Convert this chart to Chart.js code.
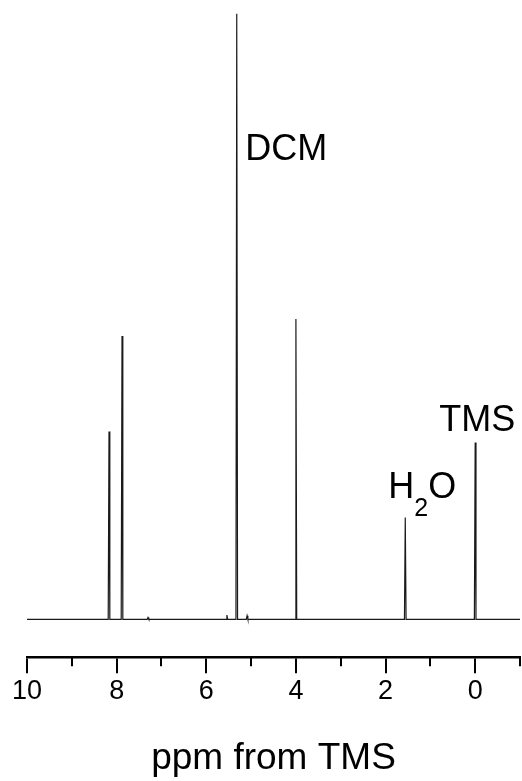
<!DOCTYPE html>
<html>
<head>
<meta charset="utf-8">
<script src="https://cdn.jsdelivr.net/npm/chart.js@4.4.1/dist/chart.umd.min.js"></script>
<style>
  body { margin: 0; background: #fff; }
  #wrap { width: 522px; height: 781px; }
</style>
</head>
<body>
<div id="wrap"><canvas id="nmr"></canvas></div>
<script>
// peak positions (ppm) and heights (DCM = 100)
const peakPpm    = [8.17, 7.88, 7.30, 5.54, 5.32, 5.09, 4.00, 1.56, 0.00];
const peakHeight = [31.0, 46.8, 0.3,  0.7,  100,  0.6,  49.6, 16.8, 29.2];

const majorTicks = [10, 8, 6, 4, 2, 0];
const minorTicks = [9, 7, 5, 3, 1, -1];

// solvent / reference labels: [text, ppm, height]
const peakLabels = [['DCM', 5.13, 75.9], ['TMS', 0.80, 31.1], ['H2O', 1.94, 20.1]];

const ppmMax = 10, ppmMin = -1;

// each peak as a narrow triangle on a flat baseline
function buildSpectrum(){
    const pts = [{x: ppmMax, y: 0}];
    peakPpm.forEach((p, i) => {
        pts.push({x: p + 0.018, y: 0});
        pts.push({x: p, y: peakHeight[i]});
        pts.push({x: p - 0.018, y: 0});
    });
    pts.push({x: ppmMin, y: 0});
    return pts.sort((a, b) => b.x - a.x);
}

const FONT = "'Liberation Sans', Arial, sans-serif";
Chart.defaults.font.family = FONT;
Chart.defaults.color = '#000';

const minorTickPlugin = {
    id: 'minorTicks',
    afterDraw(chart){
        const {ctx, scales: {x}, chartArea} = chart;
        ctx.save();
        ctx.strokeStyle = '#000';
        ctx.lineWidth = 2;
        minorTicks.forEach(v => {
            const px = Math.round(x.getPixelForValue(v));
            ctx.beginPath();
            ctx.moveTo(px, chartArea.bottom);
            ctx.lineTo(px, chartArea.bottom + 9);
            ctx.stroke();
        });
        ctx.restore();
    }
};

const labelPlugin = {
    id: 'peakLabels',
    afterDatasetsDraw(chart){
        const {ctx, scales: {x, y}} = chart;
        ctx.save();
        ctx.fillStyle = '#000';
        ctx.textBaseline = 'alphabetic';
        ctx.textAlign = 'left';
        peakLabels.forEach(([txt, p, h]) => {
            let px = x.getPixelForValue(p);
            const py = y.getPixelForValue(h);
            if (txt === 'H2O') {
                ctx.font = '36px ' + FONT;
                ctx.fillText('H', px, py);
                px += ctx.measureText('H').width;
                ctx.font = '25px ' + FONT;
                ctx.fillText('2', px, py + 18);
                px += ctx.measureText('2').width;
                ctx.font = '36px ' + FONT;
                ctx.fillText('O', px, py);
            } else {
                ctx.font = '36px ' + FONT;
                ctx.fillText(txt, px, py);
            }
        });
        ctx.restore();
    }
};

new Chart(document.getElementById('nmr'), {
    type: 'line',
    data: {
        datasets: [{
            data: buildSpectrum(),
            borderColor: '#1a1a1a',
            borderWidth: 1.2,
            pointRadius: 0,
            tension: 0,
            fill: false
        }]
    },
    options: {
        responsive: true,
        maintainAspectRatio: false,
        animation: false,
        layout: { padding: { top: 12, left: 27, right: 2, bottom: 0 } },
        plugins: { legend: { display: false }, tooltip: { enabled: false } },
        scales: {
            x: {
                type: 'linear',
                reverse: true,
                min: ppmMin,
                max: ppmMax,
                afterBuildTicks: scale => { scale.ticks = majorTicks.map(v => ({value: v})); },
                border: { display: true, color: '#000', width: 2.5 },
                grid: { drawOnChartArea: false, drawTicks: true, tickLength: 16, color: '#000', lineWidth: 2 },
                ticks: { font: { size: 27 }, padding: 2, maxRotation: 0, autoSkip: false },
                title: { display: true, text: 'ppm from TMS', font: { size: 37 }, padding: { top: 27, bottom: 0 } }
            },
            y: {
                display: false,
                min: -6.26,
                max: 100.3
            }
        }
    },
    plugins: [minorTickPlugin, labelPlugin]
});
</script>
</body>
</html>
